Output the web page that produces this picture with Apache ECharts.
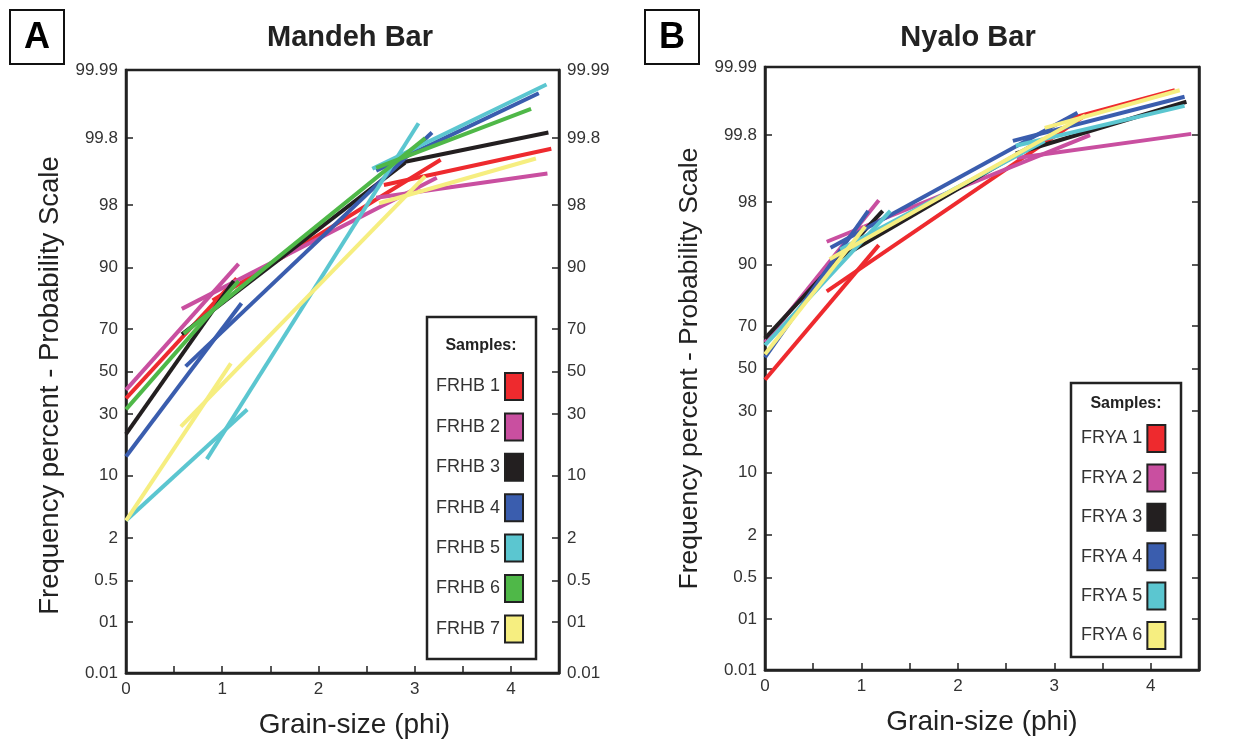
<!DOCTYPE html>
<html><head><meta charset="utf-8">
<script src="https://cdn.jsdelivr.net/npm/echarts@6/dist/echarts.min.js"></script>
<style>html,body{margin:0;padding:0;background:#fff}#c{width:1250px;height:745px}</style>
</head><body><div id="c"></div>
<script>
// ---- axis ticks (probability scale, percent) ----
const tickPercents = [0.01, 0.1, 0.5, 2, 10, 30, 50, 70, 90, 98, 99.8, 99.99];
const tickLabels = ['0.01', '01', '0.5', '2', '10', '30', '50', '70', '90', '98', '99.8', '99.99'];

// ---- Panel A: Mandeh Bar ----
const mandehNames = ['FRHB 1', 'FRHB 2', 'FRHB 3', 'FRHB 4', 'FRHB 5', 'FRHB 6', 'FRHB 7'];
const mandehColors = ['#EE2A2E', '#C94FA0', '#231F20', '#3A5DAE', '#5BC6D0', '#4FB848', '#F6EE80'];
// each sample: list of straight segments, points [phi, cumulative percent]
const FRHB1 = [[[0, 37], [1.15, 87.5]], [[0.9, 81], [3.27, 99.55]], [[2.68, 98.93], [4.42, 99.70]]];
const FRHB2 = [[[0, 41], [1.17, 90.8]], [[0.58, 78], [3.23, 99.16]], [[2.6, 98.4], [4.38, 99.27]]];
const FRHB3 = [[[0, 22], [1.12, 86.8]], [[0.58, 67.7], [2.9, 99.5]], [[2.8, 99.48], [4.39, 99.84]]];
const FRHB4 = [[[0, 14.7], [1.2, 80]], [[0.62, 52.5], [3.18, 99.84]], [[2.6, 99.34], [4.29, 99.97]]];
const FRHB5 = [[[0, 3.3], [1.26, 32]], [[0.84, 14], [3.04, 99.89]], [[2.56, 99.38], [4.37, 99.98]]];
const FRHB6 = [[[0, 32], [1.17, 86.8]], [[0.6, 68], [3.11, 99.8]], [[2.6, 99.4], [4.21, 99.94]]];
const FRHB7 = [[[0, 3.3], [1.09, 54]], [[0.57, 24.8], [3.11, 99.2]], [[2.63, 98.1], [4.26, 99.57]]];
const mandehData = [FRHB1, FRHB2, FRHB3, FRHB4, FRHB5, FRHB6, FRHB7];

// ---- Panel B: Nyalo Bar ----
const nyaloNames = ['FRYA 1', 'FRYA 2', 'FRYA 3', 'FRYA 4', 'FRYA 5', 'FRYA 6'];
const nyaloColors = ['#EE2A2E', '#C94FA0', '#231F20', '#3A5DAE', '#5BC6D0', '#F6EE80'];
const FRYA1 = [[[0, 44.5], [1.18, 93.6]], [[0.64, 82.9], [3.32, 99.91]], [[3.1, 99.89], [4.25, 99.97]]];
const FRYA2 = [[[0, 62.7], [1.18, 98.1]], [[0.64, 94.1], [3.37, 99.8]], [[2.61, 99.53], [4.42, 99.81]]];
const FRYA3 = [[[0, 64.5], [1.22, 97.4]], [[0.7, 90.5], [2.85, 99.75]], [[2.6, 99.6], [4.37, 99.95]]];
const FRYA4 = [[[0, 55.5], [1.07, 97.4]], [[0.68, 93.2], [3.24, 99.92]], [[2.57, 99.75], [4.35, 99.96]]];
const FRYA5 = [[[0, 61.3], [1.3, 97.4]], [[0.78, 92.9], [2.9, 99.75]], [[2.6, 99.7], [4.35, 99.94]]];
const FRYA6 = [[[0, 57], [1.04, 96]], [[0.67, 91.1], [3.32, 99.91]], [[2.9, 99.85], [4.3, 99.97]]];
const nyaloData = [FRYA1, FRYA2, FRYA3, FRYA4, FRYA5, FRYA6];

// inverse normal CDF (Acklam) -> probability-scale axis coordinate
function probit(p) {
  const a = [-3.969683028665376e+01, 2.209460984245205e+02, -2.759285104469687e+02, 1.383577518672690e+02, -3.066479806614716e+01, 2.506628277459239e+00];
  const b = [-5.447609879822406e+01, 1.615858368580409e+02, -1.556989798598866e+02, 6.680131188771972e+01, -1.328068155288572e+01];
  const c = [-7.784894002430293e-03, -3.223964580411365e-01, -2.400758277161838e+00, -2.549732539343734e+00, 4.374664141464968e+00, 2.938163982698783e+00];
  const d = [7.784695709041462e-03, 3.224671290700398e-01, 2.445134137142996e+00, 3.754408661907416e+00];
  const pl = 0.02425, ph = 1 - pl;
  let q, r;
  if (p < pl) { q = Math.sqrt(-2 * Math.log(p)); return (((((c[0]*q+c[1])*q+c[2])*q+c[3])*q+c[4])*q+c[5]) / ((((d[0]*q+d[1])*q+d[2])*q+d[3])*q+1); }
  if (p <= ph) { q = p - 0.5; r = q*q; return (((((a[0]*r+a[1])*r+a[2])*r+a[3])*r+a[4])*r+a[5])*q / (((((b[0]*r+b[1])*r+b[2])*r+b[3])*r+b[4])*r+1); }
  q = Math.sqrt(-2 * Math.log(1 - p)); return -(((((c[0]*q+c[1])*q+c[2])*q+c[3])*q+c[4])*q+c[5]) / ((((d[0]*q+d[1])*q+d[2])*q+d[3])*q+1);
}
const z = pct => probit(pct / 100);
const tickZ = tickPercents.map(z);
const zMax = z(99.99), zMin = z(0.01);
const FONT = 'Liberation Sans, Arial, sans-serif';
const INK = '#222';

function labelFor(v) {
  for (let i = 0; i < tickZ.length; i++) if (Math.abs(tickZ[i] - v) < 1e-6) return tickLabels[i];
  return '';
}

function yAxis(grid, pos, showLabel, name, nameSize, namePad) {
  return {
    type: 'value', gridIndex: grid, position: pos, min: zMin, max: zMax,
    splitLine: { show: false },
    axisLine: { show: true, onZero: false, lineStyle: { color: INK, width: 2.5 } },
    axisTick: { show: true, inside: true, length: 7, customValues: tickZ, lineStyle: { color: INK, width: 1.5 } },
    axisLabel: { show: showLabel, customValues: tickZ, formatter: labelFor, fontSize: 17, color: '#333', fontFamily: FONT, margin: 8 },
    name: name || '', nameLocation: 'middle', nameGap: 62, nameRotate: 90,
    nameTextStyle: { fontSize: nameSize || 25, color: '#222', fontFamily: FONT, padding: namePad || 0 }
  };
}
function xAxis(grid, namePad) {
  return {
    type: 'value', gridIndex: grid, min: 0, max: 4.5, interval: 0.5,
    splitLine: { show: false },
    axisLine: { show: true, onZero: false, lineStyle: { color: INK, width: 2.5 } },
    axisTick: { show: true, inside: true, length: 7, lineStyle: { color: INK, width: 1.5 } },
    axisLabel: { formatter: v => (Math.abs(v - Math.round(v)) < 1e-9 ? String(Math.round(v)) : ''), fontSize: 17, color: '#333', fontFamily: FONT, margin: 8 },
    name: 'Grain-size (phi)', nameLocation: 'middle', nameGap: 38,
    nameTextStyle: { fontSize: 28, color: '#222', fontFamily: FONT, padding: namePad || 0 }
  };
}

const series = [];
function addPanel(data, names, colors, xi, yi) {
  data.forEach((segs, k) => {
    segs.forEach(seg => {
      series.push({
        type: 'line', name: names[k], xAxisIndex: xi, yAxisIndex: yi,
        data: seg.map(p => [p[0], z(p[1])]),
        showSymbol: false, symbol: 'none', silent: true,
        color: colors[k], itemStyle: { color: colors[k] },
        lineStyle: { color: colors[k], width: 4, cap: 'butt' },
        animation: false
      });
    });
  });
}
addPanel(mandehData, mandehNames, mandehColors, 0, 0);
addPanel(nyaloData, nyaloNames, nyaloColors, 1, 2);

function legend(names, left, top, gap) {
  return {
    data: names, orient: 'vertical', left: left, top: top, padding: 0,
    align: 'right', icon: 'rect', itemWidth: 18, itemHeight: 27, itemGap: gap, itemTextGap: 5,
    selectedMode: false,
    itemStyle: { borderColor: '#222', borderWidth: 2 },
    textStyle: { fontSize: 18, color: '#333', fontFamily: FONT }
  };
}

const chart = echarts.init(document.getElementById('c'), null, { renderer: 'canvas' });
chart.setOption({
  backgroundColor: '#ffffff',
  animation: false,
  grid: [
    { left: 126, top: 70, width: 433, height: 603, show: true, borderColor: INK, borderWidth: 2.5, backgroundColor: 'transparent' },
    { left: 765, top: 67, width: 434, height: 603, show: true, borderColor: INK, borderWidth: 2.5, backgroundColor: 'transparent' }
  ],
  xAxis: [xAxis(0, [0, 0, 0, 24]), xAxis(1)],
  yAxis: [
    yAxis(0, 'left', true, 'Frequency percent - Probability Scale', 27.5, [0, 28, 0, 0]),
    yAxis(0, 'right', true),
    yAxis(1, 'left', true, 'Frequency percent - Probability Scale', 26.5),
    yAxis(1, 'right', false)
  ],
  legend: [legend(mandehNames, 436, 372, 11.4), legend(nyaloNames, 1081, 424, 10.4)],
  graphic: [
    { type: 'rect', shape: { x: 10, y: 10, width: 54, height: 54 }, style: { fill: '#fff', stroke: '#111', lineWidth: 2 } },
    { type: 'text', x: 37, y: 38, style: { text: 'A', fontSize: 36, fontWeight: 'bold', fontFamily: FONT, fill: '#000', align: 'center', verticalAlign: 'middle' } },
    { type: 'rect', shape: { x: 645, y: 10, width: 54, height: 54 }, style: { fill: '#fff', stroke: '#111', lineWidth: 2 } },
    { type: 'text', x: 672, y: 38, style: { text: 'B', fontSize: 36, fontWeight: 'bold', fontFamily: FONT, fill: '#000', align: 'center', verticalAlign: 'middle' } },
    { type: 'text', x: 350, y: 38, style: { text: 'Mandeh Bar', fontSize: 29, fontWeight: 'bold', fontFamily: FONT, fill: '#222', align: 'center', verticalAlign: 'middle' } },
    { type: 'text', x: 968, y: 38, style: { text: 'Nyalo Bar', fontSize: 29, fontWeight: 'bold', fontFamily: FONT, fill: '#222', align: 'center', verticalAlign: 'middle' } },
    { type: 'rect', z: -1, shape: { x: 427, y: 317, width: 109, height: 342 }, style: { fill: '#fff', stroke: '#222', lineWidth: 2.5 } },
    { type: 'text', x: 481, y: 346, style: { text: 'Samples:', fontSize: 16, fontWeight: 'bold', fontFamily: FONT, fill: '#222', align: 'center', verticalAlign: 'middle' } },
    { type: 'rect', z: -1, shape: { x: 1071, y: 383, width: 110, height: 274 }, style: { fill: '#fff', stroke: '#222', lineWidth: 2.5 } },
    { type: 'text', x: 1126, y: 404, style: { text: 'Samples:', fontSize: 16, fontWeight: 'bold', fontFamily: FONT, fill: '#222', align: 'center', verticalAlign: 'middle' } }
  ],
  series: series
});
</script>
</body></html>
